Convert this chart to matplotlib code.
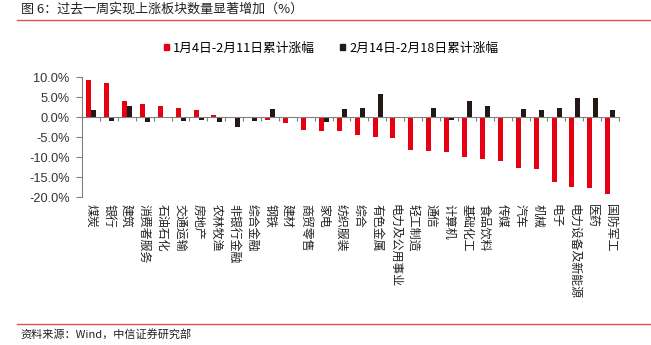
import matplotlib
matplotlib.use("Agg")
import matplotlib.pyplot as plt
from matplotlib.patches import Patch
from matplotlib.lines import Line2D
import numpy as np

plt.rcParams['font.family'] = ['Noto Sans CJK SC', 'DejaVu Sans']

categories = ["煤炭", "银行", "建筑", "消费者服务", "石油石化", "交通运输", "房地产", "农林牧渔",
              "非银行金融", "综合金融", "钢铁", "建材", "商贸零售", "家电", "纺织服装", "综合",
              "有色金属", "电力及公用事业", "轻工制造", "通信", "计算机", "基础化工", "食品饮料",
              "传媒", "汽车", "机械", "电子", "电力设备及新能源", "医药", "国防军工"]
series1 = [9.3, 8.6, 3.9, 3.2, 2.7, 2.3, 1.7, 0.5, -0.1, -0.3, -0.7, -1.6, -3.3, -3.5, -3.4,
           -4.6, -4.9, -5.3, -8.2, -8.4, -8.8, -9.9, -10.5, -10.9, -12.8, -13.1, -16.2, -17.6,
           -17.8, -19.2]
series2 = [1.8, -1.0, 2.8, -1.2, -0.3, -1.0, -0.7, -1.2, -2.6, -1.0, 1.9, 0.1, 0.0, -1.2, 1.9,
           2.2, 5.7, -0.3, 0.1, 2.3, -0.7, 4.1, 2.8, 0.0, 1.9, 1.8, 2.3, 4.7, 4.7, 1.8]
label1 = "1月4日-2月11日累计涨幅"
label2 = "2月14日-2月18日累计涨幅"
yticks = [10, 5, 0, -5, -10, -15, -20]

c1 = '#E60012'
c2 = '#231815'

fig = plt.figure(figsize=(6.51, 3.45), dpi=100)
ax = fig.add_axes([82/651, 1-197/345, (619-82)/651, 120/345])

x = np.arange(len(categories))
w = 0.28
ax.bar(x - 0.13, series1, width=w, color=c1, label=label1, zorder=2)
ax.bar(x + 0.16, series2, width=w, color=c2, label=label2, zorder=2)

ax.set_xlim(-0.5, len(categories) - 0.5)
ax.set_ylim(-20, 10)
ax.set_yticks(yticks)
ax.set_yticklabels([f"{v:.1f}%" for v in yticks], fontsize=9.2, color='#333333',
                   family=['Liberation Sans', 'DejaVu Sans'])
ax.tick_params(axis='y', length=4, color='#808080', width=0.8, pad=5)

for s in ['top', 'right']:
    ax.spines[s].set_visible(False)
ax.spines['left'].set_color('#808080')
ax.spines['bottom'].set_position(('data', 0))
ax.spines['bottom'].set_color('#808080')
ax.set_xticks(np.arange(len(categories) + 1) - 0.5)
ax.set_xticklabels([])
ax.tick_params(axis='x', length=3, color='#808080', width=0.8, direction='out')

for i, c in enumerate(categories):
    ax.text(i, -21.8, c, rotation=270, ha='center', va='top', fontsize=8.6,
            color='#222222')

handles = [Patch(color=c1, label=label1), Patch(color=c2, label=label2)]
fig.legend(handles=handles, loc='center', bbox_to_anchor=(331/651, 1-48/345), ncol=2,
           frameon=False, fontsize=9.2, handlelength=0.45, handleheight=0.45,
           handletextpad=0.3, columnspacing=1.9)

fig.text(21/651, 1-9/345, "图 6：过去一周实现上涨板块数量显著增加（%）", fontsize=9.4,
         ha='left', va='center', color='#222222')
fig.add_artist(Line2D([17/651, 1], [1-19.5/345, 1-19.5/345], color='#D9534F', lw=1.0))
fig.add_artist(Line2D([17/651, 1], [1-324/345, 1-324/345], color='#D9534F', lw=1.0))
fig.text(20/651, 1-334/345, "资料来源：Wind，中信证券研究部", fontsize=8,
         ha='left', va='center', color='#222222')

fig.savefig("out.png", dpi=100)
